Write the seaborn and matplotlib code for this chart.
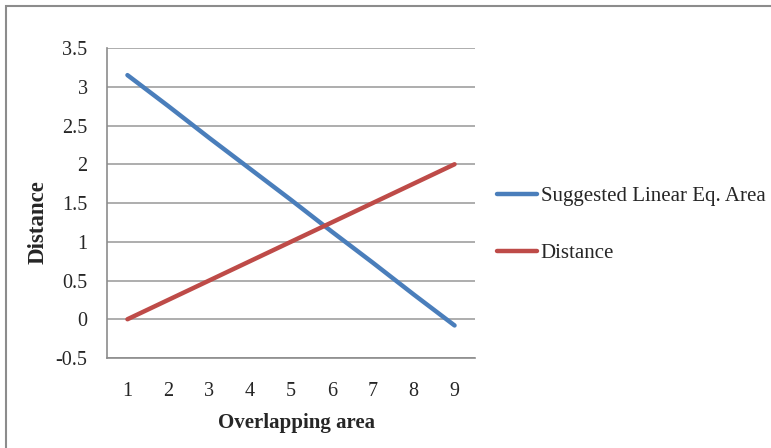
import matplotlib
matplotlib.use("Agg")
import matplotlib.pyplot as plt
from matplotlib.patches import Rectangle
import pandas as pd
import seaborn as sns

overlap = [1, 2, 3, 4, 5, 6, 7, 8, 9]
suggested_area = [3.15, 2.75, 2.34, 1.94, 1.54, 1.13, 0.73, 0.32, -0.08]
distance = [0.0, 0.25, 0.5, 0.75, 1.0, 1.25, 1.5, 1.75, 2.0]
series_names = ["Suggested Linear Eq. Area", "Distance"]
y_ticks = [-0.5, 0, 0.5, 1, 1.5, 2, 2.5, 3, 3.5]
y_tick_labels = ["-0.5", "0", "0.5", "1", "1.5", "2", "2.5", "3", "3.5"]

df = pd.DataFrame({
    "Overlapping area": overlap * 2,
    "value": suggested_area + distance,
    "series": [series_names[0]] * len(overlap) + [series_names[1]] * len(overlap),
})

sns.set_theme(style="white")
plt.rcParams["font.family"] = ["Liberation Serif", "DejaVu Serif"]

W, H = 771, 448
fig = plt.figure(figsize=(W / 100, H / 100), dpi=100)
# outer chart frame
fig.patches.append(Rectangle((6 / W, -0.2), 1.2, 1.2 - 6 / H, transform=fig.transFigure,
                             fill=False, edgecolor="#8c8c8c", linewidth=1.5, zorder=0))

x0, x1, ytop, ybot = 107, 475, 48, 358
ax = fig.add_axes([x0 / W, (H - ybot) / H, (x1 - x0) / W, (ybot - ytop) / H])
palette = {series_names[0]: "#4a7ebb", series_names[1]: "#be4b48"}
sns.lineplot(data=df, x="Overlapping area", y="value", hue="series",
             palette=palette, linewidth=3.2, ax=ax, legend=True)

ax.set_xlim(0.5, 9.5)
ax.set_ylim(-0.5, 3.5)
ax.set_xticks(overlap)
ax.set_xticklabels([str(v) for v in overlap], fontsize=14.5)
ax.set_yticks(y_ticks)
ax.set_yticklabels(y_tick_labels, fontsize=14.5)
ax.tick_params(axis="x", length=0, pad=17)
ax.tick_params(axis="y", length=0, pad=14)

ax.grid(axis="y", color="#a0a0a0", linewidth=1.2)
ax.grid(axis="x", visible=False)
ax.set_axisbelow(True)
for side in ["top", "right"]:
    ax.spines[side].set_visible(False)
for side in ["left", "bottom"]:
    ax.spines[side].set_color("#8c8c8c")
    ax.spines[side].set_linewidth(1.2)

ax.set_xlabel("Overlapping area", fontsize=15, fontweight="bold")
ax.set_ylabel("Distance", fontsize=16.5, fontweight="bold")
ax.xaxis.set_label_coords((296 - x0) / (x1 - x0), (ybot - 413) / (ybot - ytop))
ax.yaxis.set_label_coords((49 - x0) / (x1 - x0), (ybot - 222) / (ybot - ytop))

handles, labels = ax.get_legend_handles_labels()
ax.legend(handles, labels, loc="center left",
          bbox_to_anchor=((497 - x0) / (x1 - x0), (ybot - 225) / (ybot - ytop)),
          frameon=False, fontsize=15, handlelength=1.9, handletextpad=0.2,
          labelspacing=1.8, borderaxespad=0, borderpad=0)

fig.savefig("out.png", dpi=100)
